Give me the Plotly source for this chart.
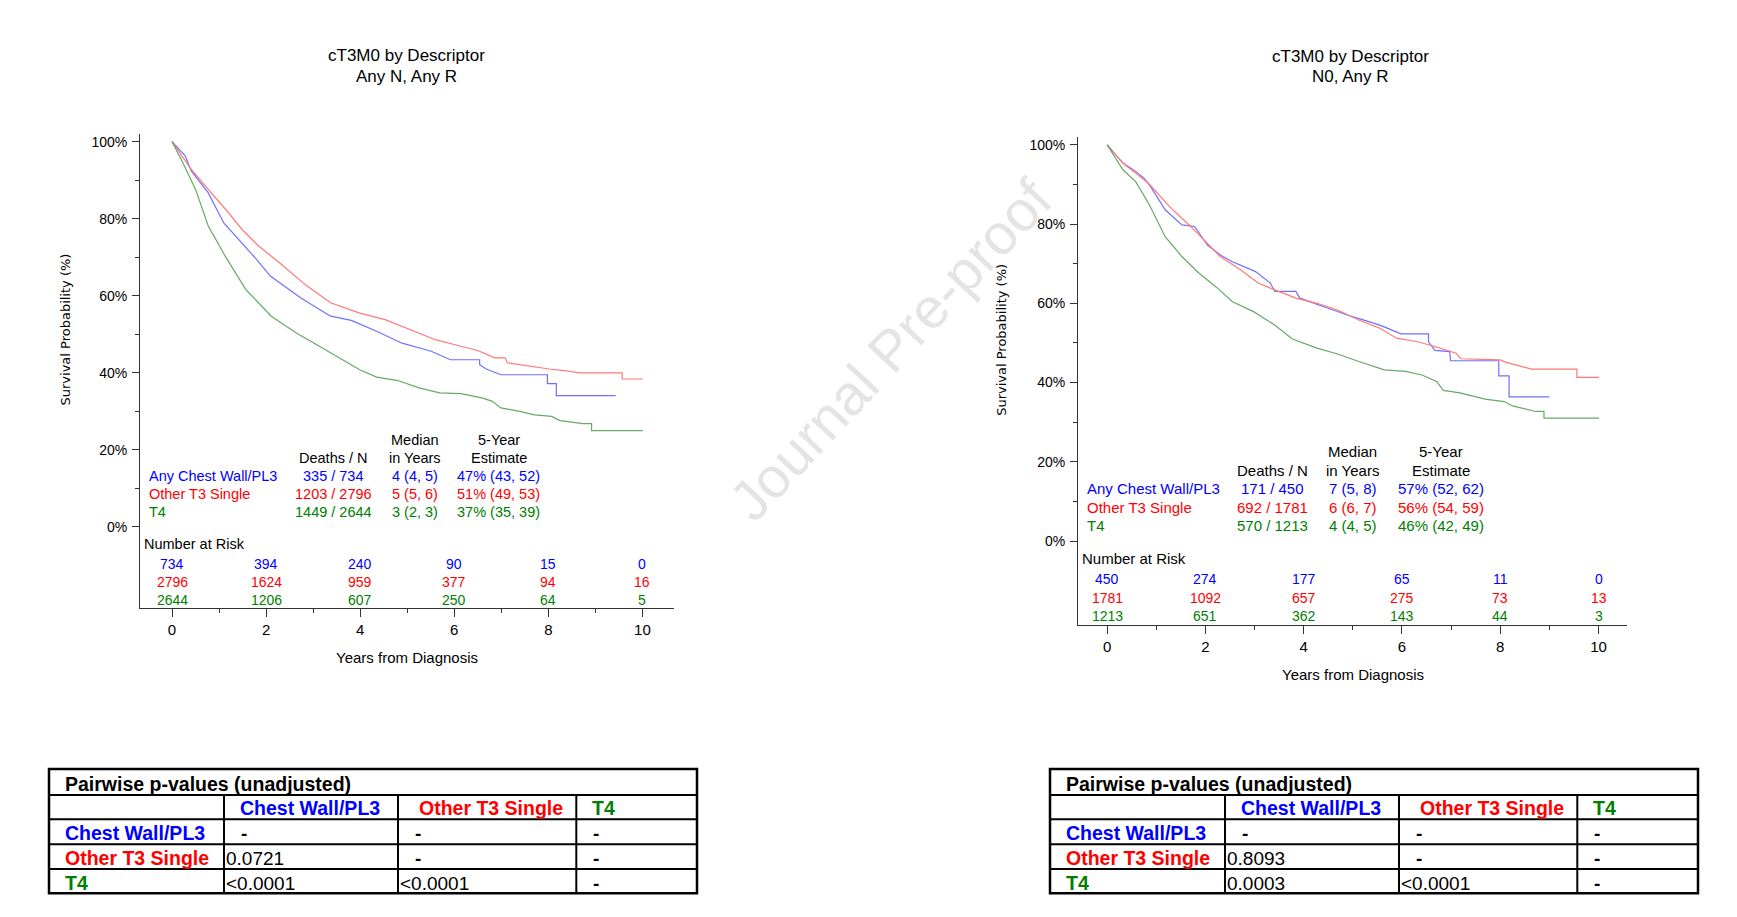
import plotly.graph_objects as go

W, H = 1737, 917

# ---------------- data ----------------
groups = ["Any Chest Wall/PL3", "Other T3 Single", "T4"]
text_colors = ["#0000ff", "#ff0000", "#008000"]
line_colors = ["#7070ff", "#ff7878", "#66aa66"]

# Left panel: Any N, Any R
L_blue_t = [0, 0.28, 0.41, 0.77, 1.10, 1.49, 1.80, 2.09, 2.38, 2.74, 3.37, 3.81, 4.35, 4.89, 5.51, 5.92,
            6.54, 6.54, 6.68, 6.99, 7.98, 7.98, 8.17, 8.17, 9.43]
L_blue_s = [100, 96.3, 92.4, 86.7, 78.9, 73.7, 69.4, 65.1, 62.5, 59.4, 54.7, 53.6, 50.8, 47.7, 45.6, 43.4,
            43.4, 42.1, 41.0, 39.5, 39.5, 37.2, 37.2, 34.1, 34.1]
L_red_t = [0, 0.41, 0.77, 1.17, 1.49, 1.84, 2.29, 2.83, 3.37, 3.99, 4.53, 5.07, 5.60, 6.14, 6.50, 6.86,
           7.08, 7.13, 7.48, 8.02, 8.33, 8.65, 9.57, 9.57, 10.01]
L_red_s = [100, 92.8, 87.6, 82.0, 77.2, 72.9, 68.5, 62.9, 58.2, 55.5, 53.8, 51.2, 48.6, 46.9, 45.8, 43.9,
           43.9, 42.6, 41.9, 41.0, 40.6, 40.0, 40.0, 38.4, 38.4]
L_green_t = [0, 0.23, 0.50, 0.77, 1.13, 1.57, 2.11, 2.65, 3.05, 3.45, 3.99, 4.35, 4.80, 5.25, 5.69, 6.14,
             6.59, 6.81, 6.99, 7.39, 7.71, 8.07, 8.25, 8.74, 8.92, 8.92, 10.01]
L_green_s = [100, 94.5, 87.6, 78.1, 70.3, 61.6, 54.7, 50.3, 47.5, 44.7, 40.8, 38.9, 38.0, 36.1, 34.8, 34.6,
             33.5, 32.6, 30.9, 30.0, 29.1, 28.7, 27.6, 26.8, 26.8, 25.0, 25.0]
L_deaths = ["335 / 734", "1203 / 2796", "1449 / 2644"]
L_median = ["4 (4, 5)", "5 (5, 6)", "3 (2, 3)"]
L_5yr = ["47% (43, 52)", "51% (49, 53)", "37% (35, 39)"]
L_risk = [[734, 394, 240, 90, 15, 0],
          [2796, 1624, 959, 377, 94, 16],
          [2644, 1206, 607, 250, 64, 5]]
L_p = [["-", "-", "-"], ["0.0721", "-", "-"], ["<0.0001", "<0.0001", "-"]]

# Right panel: N0, Any R
R_blue_t = [0, 0.32, 0.58, 0.75, 0.88, 1.18, 1.52, 1.78, 2.04, 2.30, 2.55, 3.02, 3.32, 3.41, 3.84, 3.92,
            4.44, 4.87, 5.21, 5.55, 5.98, 6.54, 6.54, 6.67, 6.97, 6.99, 7.97, 7.97, 8.18, 8.18, 9.0]
R_blue_s = [100, 95.4, 93.3, 91.6, 89.5, 83.6, 79.8, 79.4, 74.7, 72.2, 70.5, 68.0, 65.1, 63.0, 63.0, 61.3,
            59.0, 57.1, 55.8, 54.5, 52.3, 52.3, 50.3, 48.1, 47.8, 45.5, 45.5, 41.7, 41.7, 36.4, 36.4]
R_red_t = [0, 0.32, 0.84, 1.27, 1.70, 2.04, 2.30, 2.72, 3.07, 3.41, 3.84, 4.27, 4.69, 5.12, 5.55, 5.89,
           6.32, 6.67, 7.10, 7.20, 8.0, 8.12, 8.64, 9.56, 9.56, 10.01]
R_red_s = [100, 95.4, 90.3, 84.4, 79.4, 75.2, 71.8, 68.4, 65.1, 63.4, 61.3, 60.0, 58.3, 55.8, 53.7, 51.2,
           50.3, 49.1, 47.4, 46.0, 45.7, 45.1, 43.4, 43.4, 41.3, 41.3]
R_green_t = [0, 0.32, 0.58, 0.84, 1.18, 1.52, 1.87, 2.21, 2.55, 2.98, 3.41, 3.77, 4.27, 4.69, 5.12, 5.64,
             6.07, 6.41, 6.71, 6.84, 7.18, 7.44, 7.69, 8.08, 8.25, 8.72, 8.89, 8.89, 10.01]
R_green_s = [100, 93.7, 90.7, 85.3, 76.8, 71.8, 67.6, 64.2, 60.4, 57.9, 54.5, 51.0, 48.7, 47.2, 45.3, 43.2,
             42.8, 41.9, 40.2, 38.0, 37.4, 36.6, 35.8, 35.2, 34.1, 32.7, 32.7, 31.0, 31.0]
R_deaths = ["171 / 450", "692 / 1781", "570 / 1213"]
R_median = ["7 (5, 8)", "6 (6, 7)", "4 (4, 5)"]
R_5yr = ["57% (52, 62)", "56% (54, 59)", "46% (42, 49)"]
R_risk = [[450, 274, 177, 65, 11, 0],
          [1781, 1092, 657, 275, 73, 13],
          [1213, 651, 362, 143, 44, 3]]
R_p = [["-", "-", "-"], ["0.8093", "-", "-"], ["0.0003", "<0.0001", "-"]]

risk_times = [0, 2, 4, 6, 8, 10]
x_ticks = [0, 2, 4, 6, 8, 10]
x_minor = [1, 3, 5, 7, 9]
y_ticks = [0, 20, 40, 60, 80, 100]
y_ticktext = ["0%", "20%", "40%", "60%", "80%", "100%"]
y_minor = [10, 30, 50, 70, 90]
table_cols = ["Chest Wall/PL3", "Other T3 Single", "T4"]
table_title = "Pairwise p-values (unadjusted)"
titles = [("cT3M0 by Descriptor", "Any N, Any R"), ("cT3M0 by Descriptor", "N0, Any R")]

FONT = "Liberation Sans, Arial, Helvetica, sans-serif"


def px(x):
    return x / W


def py(y):
    return 1 - y / H


panels = [
    dict(xa="x", ya="y", xdom=(140, 674.4), ydom=(134.3, 608.3), xr=[-0.681, 10.68], yr=[-21.1, 101.9],
         curves=[(L_blue_t, L_blue_s), (L_red_t, L_red_s), (L_green_t, L_green_s)],
         deaths=L_deaths, median=L_median, fivey=L_5yr, risk=L_risk, p=L_p,
         lab_x=-0.53, dn_x=3.43, med_x=5.17, fy_x=6.95, nar_x=-0.636, stat_size=14.5,
         title_x=406.3, title_y=(56, 76), xtitle_y=657, ytitle=(64.5, 330), tab_dx=0),
    dict(xa="x2", ya="y2", xdom=(1078.1, 1627.2), ydom=(137.3, 625), xr=[-0.592, 10.584], yr=[-21.2, 101.9],
         curves=[(R_blue_t, R_blue_s), (R_red_t, R_red_s), (R_green_t, R_green_s)],
         deaths=R_deaths, median=R_median, fivey=R_5yr, risk=R_risk, p=R_p,
         lab_x=-0.45, dn_x=3.37, med_x=5.0, fy_x=6.79, nar_x=-0.55, stat_size=15,
         title_x=1350.5, title_y=(56.7, 76.7), xtitle_y=674.3, ytitle=(1000.8, 340), tab_dx=1001),
]

fig = go.Figure()
annotations = []
shapes = []


def ann(x, y, text, size, color="#000000", xanchor="center", yanchor="middle", xref="paper", yref="paper",
        family=FONT, angle=0):
    annotations.append(dict(x=x, y=y, xref=xref, yref=yref, text=text, showarrow=False,
                            xanchor=xanchor, yanchor=yanchor, textangle=angle,
                            font=dict(family=family, size=size, color=color)))


# header / row y-positions (data units on survival axis)
Y_HEAD1, Y_HEAD2 = 22.5, 17.8
Y_ROWS = [13.15, 8.5, 3.9]
Y_NAR = -4.45
Y_RISK = [-9.5, -14.35, -19.0]

for i, p in enumerate(panels):
    for (t, s), col, name in zip(p["curves"], line_colors, groups):
        fig.add_trace(go.Scatter(x=t, y=s, mode="lines", line=dict(color=col, width=1.2),
                                 name=name, showlegend=False, xaxis=p["xa"], yaxis=p["ya"],
                                 hoverinfo="skip"))
    sfx = "" if i == 0 else "2"
    axis_common = dict(showgrid=False, zeroline=False, showline=True, linecolor="#333333", linewidth=1,
                       ticks="outside", tickcolor="#333333", tickwidth=1)
    fig.update_layout(**{
        "xaxis" + sfx: dict(domain=[px(p["xdom"][0]), px(p["xdom"][1])], range=p["xr"],
                            anchor="y" + sfx, tickmode="array", tickvals=x_ticks, ticklen=8,
                            tickfont=dict(family=FONT, size=15, color="#000000"),
                            minor=dict(tickmode="array", tickvals=x_minor, ticklen=4, ticks="outside",
                                       tickcolor="#333333"),
                            **axis_common),
        "yaxis" + sfx: dict(domain=[py(p["ydom"][1]), py(p["ydom"][0])], range=p["yr"],
                            anchor="x" + sfx, tickmode="array", tickvals=y_ticks, ticktext=y_ticktext,
                            ticklen=7, ticklabelstandoff=2,
                            tickfont=dict(family=FONT, size=14, color="#000000"),
                            minor=dict(tickmode="array", tickvals=y_minor, ticklen=4, ticks="outside",
                                       tickcolor="#333333"),
                            **axis_common),
    })
    # titles
    ann(px(p["title_x"]), py(p["title_y"][0]), titles[i][0], 17)
    ann(px(p["title_x"]), py(p["title_y"][1]), titles[i][1], 17)
    # axis titles
    xc = (p["xdom"][0] + p["xdom"][1]) / 2
    ann(px(xc), py(p["xtitle_y"]), "Years from Diagnosis", 15)
    ann(px(p["ytitle"][0]), py(p["ytitle"][1]), "Survival Probability (%)", 13,
        family="DejaVu Sans, Verdana, sans-serif", angle=-90)
    # stats block
    xr, yr = p["xa"], p["ya"]
    ss = p["stat_size"]
    ann(p["med_x"], Y_HEAD1, "Median", ss, xref=xr, yref=yr)
    ann(p["fy_x"], Y_HEAD1, "5-Year", ss, xref=xr, yref=yr)
    ann(p["dn_x"], Y_HEAD2, "Deaths / N", ss, xref=xr, yref=yr)
    ann(p["med_x"], Y_HEAD2, "in Years", ss, xref=xr, yref=yr)
    ann(p["fy_x"], Y_HEAD2, "Estimate", ss, xref=xr, yref=yr)
    for g in range(3):
        c = text_colors[g]
        ann(p["lab_x"], Y_ROWS[g], groups[g], ss, c, xanchor="left", xref=xr, yref=yr)
        ann(p["dn_x"], Y_ROWS[g], p["deaths"][g], ss, c, xref=xr, yref=yr)
        ann(p["med_x"], Y_ROWS[g], p["median"][g], ss, c, xref=xr, yref=yr)
        ann(p["fy_x"], Y_ROWS[g], p["fivey"][g], ss, c, xref=xr, yref=yr)
    ann(p["nar_x"], Y_NAR, "Number at Risk", ss, xanchor="left", xref=xr, yref=yr)
    for g in range(3):
        for tt, n in zip(risk_times, p["risk"][g]):
            ann(tt, Y_RISK[g], str(n), 14, text_colors[g], xref=xr, yref=yr)

    # pairwise table
    dx = p["tab_dx"]
    xe = [49 + dx, 224 + dx, 398 + dx, 576.3 + dx, 697 + dx]
    ye = [769, 795, 819.3, 844.3, 869, 893.3]
    lw = 2
    shapes.append(dict(type="rect", xref="paper", yref="paper", x0=px(xe[0]), x1=px(xe[-1]),
                       y0=py(ye[-1]), y1=py(ye[0]), line=dict(color="#000000", width=2.5)))
    for yy in ye[1:-1]:
        shapes.append(dict(type="line", xref="paper", yref="paper", x0=px(xe[0]), x1=px(xe[-1]),
                           y0=py(yy), y1=py(yy), line=dict(color="#000000", width=lw)))
    for xx in xe[1:-1]:
        shapes.append(dict(type="line", xref="paper", yref="paper", x0=px(xx), x1=px(xx),
                           y0=py(ye[1]), y1=py(ye[-1]), line=dict(color="#000000", width=lw)))
    ann(px(xe[0] + 14), py(783.5), "<b>" + table_title + "</b>", 19.5, xanchor="left")
    head_pad = [14, 19, 14]
    for j in range(3):
        ann(px(xe[j + 1] + head_pad[j]), py(808), "<b>" + table_cols[j] + "</b>", 19.5, text_colors[j],
            xanchor="left")
    row_y = [833, 858, 883]
    for r in range(3):
        ann(px(xe[0] + 14), py(row_y[r]), "<b>" + table_cols[r] + "</b>", 19.5, text_colors[r],
            xanchor="left")
        for j in range(3):
            v = p["p"][r][j]
            if v == "-":
                ann(px(xe[j + 1] + 15), py(row_y[r]), "<b>-</b>", 19, xanchor="left")
            else:
                ann(px(xe[j + 1]), py(row_y[r]), v, 19, xanchor="left")

# watermark
ann(px(890), py(350), "Journal Pre-proof", 57, color="rgba(190,190,190,0.42)", angle=-47)

fig.update_layout(width=W, height=H, margin=dict(l=0, r=0, t=0, b=0), paper_bgcolor="white",
                  plot_bgcolor="white", showlegend=False, annotations=annotations, shapes=shapes,
                  font=dict(family=FONT, color="#000000"))

fig.write_html("out.html")
